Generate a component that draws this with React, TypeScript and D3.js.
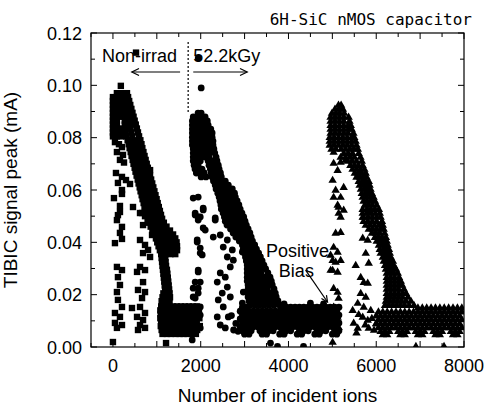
import React from 'react';
import * as d3 from 'd3';

const W = 491;
const H = 407;

const titleText = '6H-SiC nMOS capacitor';
const xLabel = 'Number of incident ions';
const yLabel = 'TIBIC signal peak (mA)';
const xTickLabels = [0, 2000, 4000, 6000, 8000];
const yTickLabels = [0, 0.02, 0.04, 0.06, 0.08, 0.1, 0.12];

// ---- Non-irradiated (squares): rows [y, x1, x2, ...] read from the dense band ----
const nonIrradRows: number[][] = [
  [0.0970, 90, 180, 270, 320],
  [0.0955, 0, 90, 180, 270, 345],
  [0.0940, 0, 90, 180, 270, 370],
  [0.0925, 0, 90, 180, 270, 395],
  [0.0910, 0, 90, 180, 270, 350, 420],
  [0.0895, 0, 90, 180, 270, 360, 445],
  [0.0880, 0, 90, 180, 270, 370, 470],
  [0.0865, 0, 90, 270, 380, 495],
  [0.0850, 0, 90, 270, 390, 520],
  [0.0835, 0, 90, 180, 280, 400, 545],
  [0.0820, 0, 90, 180, 290, 420, 570],
  [0.0805, 0, 90, 180, 300, 440, 595],
  [0.0790, 335, 430, 530, 625],
  [0.0775, 360, 455, 555, 650],
  [0.0760, 380, 475, 575, 670],
  [0.0745, 405, 500, 600, 695],
  [0.0730, 425, 525, 620, 720],
  [0.0715, 450, 550, 645, 745],
  [0.0700, 470, 570, 670, 770],
  [0.0685, 495, 595, 695, 795],
  [0.0670, 515, 615, 720, 820],
  [0.0655, 540, 640, 745, 845],
  [0.0640, 565, 665, 770, 870],
  [0.0625, 585, 690, 790, 895],
  [0.0610, 610, 710, 815, 920],
  [0.0595, 630, 735, 840, 945],
  [0.0580, 655, 760, 865, 970],
  [0.0565, 675, 780, 890, 995],
  [0.0550, 700, 805, 910, 1020],
  [0.0535, 720, 830, 935, 1045],
  [0.0520, 745, 855, 960, 1070],
  [0.0505, 770, 880, 985, 1095],
  [0.0490, 790, 900, 1010, 1120],
  [0.0475, 820, 930, 1040, 1160],
  [0.0460, 860, 960, 1060, 1160, 1220],
  [0.0445, 900, 1000, 1100, 1200, 1300],
  [0.0430, 940, 1040, 1140, 1250, 1370],
  [0.0415, 980, 1080, 1180, 1300, 1420],
  [0.0400, 1010, 1120, 1230, 1340, 1450],
  [0.0385, 1040, 1150, 1260, 1370, 1460],
  [0.0370, 1070, 1180, 1290, 1380, 1460],
  [0.0355, 1100, 1200, 1310, 1420],
  [0.0340, 1110, 1190],
  [0.0325, 1120, 1200],
  [0.0310, 1130, 1210],
  [0.0295, 1140, 1230],
  [0.0280, 1150, 1240],
  [0.0265, 1160, 1250],
  [0.0250, 1170, 1260],
  [0.0235, 1180, 1270],
  [0.0220, 1190, 1280],
  [0.0205, 1150, 1200, 1290],
  [0.0190, 1130, 1210, 1300],
  [0.0175, 1110, 1200, 1290],
  [0.0155, 1100, 1190, 1280, 1370, 1460, 1550, 1640, 1730, 1820, 1910],
  [0.0140, 1080, 1170, 1260, 1350, 1440, 1530, 1620, 1710, 1800, 1890, 1960],
  [0.0125, 1090, 1180, 1270, 1360, 1450, 1540, 1630, 1720, 1810, 1900],
  [0.0110, 1080, 1170, 1260, 1350, 1440, 1530, 1620, 1710, 1800, 1890, 1970],
  [0.0095, 1100, 1190, 1280, 1370, 1460, 1550, 1640, 1730, 1820, 1910],
  [0.0080, 1090, 1180, 1270, 1360, 1450, 1540, 1630, 1720, 1810, 1900, 1980],
  [0.0065, 1110, 1200, 1290, 1380, 1470, 1560, 1650, 1740, 1830, 1920],
  [0.0050, 1130, 1230, 1320, 1430, 1520, 1610, 1700, 1800, 1890],
];
const nonIrradScatter: number[][] = [
  [180, 0.0998], [526, 0.1125],
  [46, 0.0783], [137, 0.0775], [206, 0.0764], [91, 0.0745], [229, 0.0734], [160, 0.0715], [252, 0.0705],
  [69, 0.0665], [206, 0.065], [297, 0.0638], [114, 0.0627], [389, 0.0623], [206, 0.060], [23, 0.0569],
  [206, 0.0585], [160, 0.0539], [457, 0.0535], [114, 0.0504], [617, 0.0512], [846, 0.0676], [731, 0.050],
  [160, 0.0516], [91, 0.0485], [206, 0.0459], [160, 0.0436], [46, 0.0397], [206, 0.0413], [91, 0.0306],
  [206, 0.0294], [114, 0.0267], [160, 0.0237], [91, 0.021], [114, 0.018], [206, 0.0153], [46, 0.013],
  [160, 0.0115], [46, 0.0092], [206, 0.0084], [91, 0.0073], [0, 0.0019],
  [663, 0.0512], [686, 0.0466], [891, 0.0428], [617, 0.0409], [731, 0.039], [800, 0.0371], [686, 0.0359],
  [846, 0.0344], [617, 0.0306], [731, 0.0294], [549, 0.0287], [686, 0.0248], [571, 0.0218], [731, 0.021],
  [663, 0.0187], [434, 0.0149], [617, 0.0153], [731, 0.013], [549, 0.0115], [686, 0.0103], [617, 0.0084],
  [731, 0.0073], [571, 0.0065], [1210, 0.0015],
];

// ---- 52.2 kGy (circles) ----
const irradRows: number[][] = [
  [0.0894, 1940, 2010],
  [0.0879, 1830, 1920, 2010, 2100],
  [0.0864, 1810, 1900, 1990, 2080, 2150],
  [0.0848, 1810, 1900, 1990, 2080, 2170],
  [0.0833, 1810, 1900, 1990, 2080, 2170, 2230],
  [0.0818, 1810, 1900, 1990, 2080, 2170, 2260],
  [0.0802, 1810, 1900, 1990, 2080, 2170, 2260],
  [0.0787, 1810, 1900, 1990, 2080, 2170, 2280],
  [0.0772, 1810, 1900, 1990, 2080, 2170, 2280],
  [0.0757, 1830, 1920, 2010, 2100, 2190, 2300],
  [0.0741, 1830, 1920, 2010, 2100, 2190, 2320],
  [0.0726, 1830, 1920, 2010, 2100, 2190, 2350],
  [0.0711, 1830, 1920, 1990, 2170, 2270, 2370],
  [0.0695, 1850, 1940, 2190, 2290, 2400],
  [0.0680, 1870, 1960, 2030, 2220, 2320, 2420],
  [0.0665, 1900, 2000, 2080, 2240, 2340, 2450],
  [0.0650, 2010, 2120, 2260, 2360, 2470],
  [0.0634, 2290, 2390, 2490, 2560],
  [0.0619, 2330, 2430, 2530, 2630],
  [0.0604, 2350, 2450, 2550, 2650, 2720],
  [0.0588, 2390, 2490, 2590, 2680, 2770],
  [0.0573, 2420, 2520, 2620, 2710, 2790],
  [0.0558, 2440, 2540, 2640, 2740, 2830],
  [0.0543, 2460, 2560, 2660, 2760, 2870],
  [0.0527, 2470, 2580, 2690, 2800, 2900],
  [0.0512, 2510, 2620, 2730, 2840, 2940],
  [0.0497, 2540, 2650, 2760, 2870, 2980],
  [0.0481, 2560, 2670, 2780, 2890, 3010],
  [0.0466, 2600, 2710, 2820, 2930, 3040],
  [0.0451, 2680, 2780, 2880, 2980, 3080],
  [0.0436, 2740, 2840, 2940, 3040, 3120],
  [0.0420, 2800, 2900, 3000, 3080, 3150],
  [0.0405, 2880, 2960, 3040, 3110, 3180],
  [0.0390, 2950, 3030, 3110, 3180, 3230],
  [0.0374, 2970, 3050, 3130, 3200, 3270],
  [0.0359, 3000, 3080, 3160, 3240, 3320],
  [0.0344, 3020, 3100, 3180, 3260, 3360],
  [0.0329, 3040, 3120, 3200, 3290, 3400],
  [0.0313, 3060, 3150, 3240, 3330, 3440],
  [0.0298, 3060, 3150, 3250, 3350, 3480],
  [0.0283, 3060, 3160, 3260, 3370, 3530],
  [0.0267, 3060, 3160, 3270, 3380, 3480, 3580],
  [0.0252, 3060, 3170, 3280, 3390, 3500, 3610],
  [0.0237, 3080, 3190, 3300, 3410, 3520, 3630],
  [0.0222, 3080, 3190, 3300, 3410, 3520, 3670],
  [0.0206, 3080, 3190, 3300, 3410, 3520, 3620, 3700],
  [0.0191, 3080, 3190, 3300, 3410, 3520, 3630, 3720],
  [0.0176, 3100, 3210, 3320, 3430, 3540, 3650, 3760],
  [0.0160, 3120, 3230, 3340, 3450, 3560, 3670, 3800],
  [0.0152, 2950, 3050, 3850, 3950, 4050, 4150, 4250, 4350, 4450, 4550, 4650, 4750, 4850, 4950, 5050, 5150],
  [0.0137, 2900, 3000, 3100, 3200, 3300, 3400, 3500, 3600, 3700, 3800, 3900, 4000, 4100, 4200, 4300, 4400, 4500, 4600, 4700, 4800, 4900, 5000, 5100],
  [0.0122, 2950, 3050, 3150, 3250, 3350, 3450, 3550, 3650, 3750, 3850, 3950, 4050, 4150, 4250, 4350, 4450, 4550, 4650, 4750, 4850, 4950, 5050, 5150],
  [0.0107, 2900, 3000, 3100, 3200, 3300, 3400, 3500, 3600, 3700, 3800, 3900, 4000, 4100, 4200, 4300, 4400, 4500, 4600, 4700, 4800, 4900, 5000, 5100],
  [0.0092, 2950, 3050, 3150, 3250, 3350, 3450, 3550, 3650, 3750, 3850, 3950, 4050, 4150, 4250, 4350, 4450, 4550, 4650, 4750, 4850, 4950, 5050, 5150],
  [0.0077, 2900, 3000, 3100, 3200, 3300, 3400, 3500, 3600, 3700, 3800, 3900, 4000, 4100, 4200, 4300, 4400, 4500, 4600, 4700, 4800, 4900, 5000, 5100],
  [0.0062, 2950, 3050, 3150, 3350, 3450, 3550, 3650, 3850, 3950, 4050, 4250, 4350, 4450, 4650, 4750, 4850, 5050, 5150],
  [0.0049, 3000, 3100, 3400, 3500, 3800, 3900, 4200, 4300, 4600, 4700, 5000, 5100],
];
const irradScatter: number[][] = [
  [2011, 0.099], [1943, 0.1104],
  [1874, 0.0512], [2057, 0.0524], [1943, 0.0485], [2103, 0.0447], [1920, 0.0409], [1989, 0.0359],
  [1943, 0.0294], [1874, 0.0248], [1943, 0.0225], [1829, 0.0191], [1920, 0.0153], [1989, 0.0122],
  [1874, 0.0092], [1806, 0.0027], [1943, 0.0497], [2057, 0.0455], [1920, 0.0401], [1989, 0.0378],
  [2034, 0.0352], [1943, 0.0287], [1989, 0.0248], [1829, 0.0225], [1943, 0.0206], [1874, 0.0187],
  [1989, 0.0153], [1920, 0.013], [1874, 0.0076], [1989, 0.0073],
  [1829, 0.0569], [1943, 0.0573], [1874, 0.0504], [2057, 0.0531], [1989, 0.0497], [2331, 0.0493],
  [2331, 0.0485], [2446, 0.0428], [2286, 0.0420], [2606, 0.0409], [2514, 0.0382], [2720, 0.0371],
  [2949, 0.0363], [2606, 0.0344], [2743, 0.0332], [2674, 0.0306], [2446, 0.0283], [2560, 0.0267],
  [2377, 0.0248], [2606, 0.0229], [2491, 0.0206], [2400, 0.018], [2674, 0.0191], [2514, 0.0153],
  [2377, 0.0115], [2629, 0.0115], [2446, 0.0084], [2560, 0.0073], [2971, 0.021], [2949, 0.0168],
  [3017, 0.013], [3063, 0.0103], [2700, 0.012], [2800, 0.009], [2850, 0.006], [2750, 0.0065],
  [3300, 0.0165], [3900, 0.0165], [4500, 0.0168], [4800, 0.0165],
  [3590, 0.0015], [3750, 0.0002], [4343, 0.0002],
];

// ---- Positive bias (triangles) ----
const biasRows: number[][] = [
  [0.0925, 5140, 5200],
  [0.0910, 5060, 5150, 5240],
  [0.0894, 4990, 5080, 5170, 5270],
  [0.0879, 4960, 5060, 5160, 5260, 5370],
  [0.0864, 4960, 5060, 5160, 5260, 5390],
  [0.0848, 4960, 5060, 5160, 5260, 5360, 5420],
  [0.0833, 4960, 5060, 5160, 5260, 5360, 5440],
  [0.0818, 4960, 5060, 5160, 5260, 5360, 5480],
  [0.0802, 4940, 5040, 5140, 5240, 5340, 5440, 5500],
  [0.0787, 4940, 5040, 5140, 5240, 5340, 5440, 5530],
  [0.0772, 4940, 5040, 5140, 5240, 5340, 5440, 5550],
  [0.0757, 4980, 5080, 5200, 5300, 5400, 5490, 5580],
  [0.0741, 5260, 5360, 5460, 5600],
  [0.0726, 5300, 5400, 5500, 5640],
  [0.0711, 5350, 5450, 5550, 5670],
  [0.0695, 5410, 5500, 5590, 5690],
  [0.0680, 5460, 5550, 5640, 5730],
  [0.0665, 5510, 5590, 5670, 5760],
  [0.0650, 5550, 5630, 5710, 5780],
  [0.0634, 5600, 5680, 5750, 5830],
  [0.0619, 5620, 5700, 5780, 5850],
  [0.0604, 5650, 5730, 5800, 5870],
  [0.0588, 5670, 5750, 5830, 5900],
  [0.0573, 5690, 5770, 5860, 5940],
  [0.0558, 5710, 5790, 5880, 5970],
  [0.0543, 5740, 5820, 5910, 6010],
  [0.0527, 5690, 5790, 5880, 5970, 6060],
  [0.0512, 5690, 5790, 5880, 5980, 6080],
  [0.0497, 5710, 5810, 5910, 6010, 6100],
  [0.0481, 5710, 5810, 5910, 6010, 6130],
  [0.0466, 5760, 5860, 5960, 6060, 6150],
  [0.0451, 5830, 5920, 6010, 6100, 6170],
  [0.0436, 5900, 5990, 6080, 6190],
  [0.0420, 5970, 6050, 6130, 6220],
  [0.0405, 6010, 6090, 6170, 6240],
  [0.0390, 6060, 6140, 6210, 6260],
  [0.0374, 6080, 6160, 6230, 6290],
  [0.0359, 6100, 6180, 6250, 6310],
  [0.0344, 6150, 6220, 6280, 6330],
  [0.0329, 6170, 6240, 6310, 6380],
  [0.0313, 6200, 6270, 6340, 6400],
  [0.0298, 6220, 6300, 6380, 6450],
  [0.0283, 6240, 6320, 6400, 6490],
  [0.0267, 6240, 6330, 6420, 6520],
  [0.0252, 6240, 6330, 6420, 6510, 6560],
  [0.0237, 6240, 6330, 6420, 6510, 6590],
  [0.0222, 6240, 6330, 6420, 6510, 6630],
  [0.0206, 6240, 6330, 6420, 6510, 6600, 6680],
  [0.0191, 6240, 6330, 6420, 6510, 6600, 6720],
  [0.0176, 6220, 6310, 6400, 6490, 6580, 6680, 6790],
  [0.0160, 6200, 6290, 6380, 6470, 6560, 6650, 6750, 6860],
  [0.0150, 6950, 7050, 7150, 7250, 7350, 7450, 7550, 7650, 7750, 7850, 7950],
  [0.0135, 6050, 6150, 6250, 6350, 6450, 6550, 6650, 6750, 6850, 6950, 7050, 7150, 7250, 7350, 7450, 7550, 7650, 7750, 7850, 7950],
  [0.0120, 6000, 6100, 6200, 6300, 6400, 6500, 6600, 6700, 6800, 6900, 7000, 7100, 7200, 7300, 7400, 7500, 7600, 7700, 7800, 7900],
  [0.0105, 6050, 6150, 6250, 6350, 6450, 6550, 6650, 6750, 6850, 6950, 7050, 7150, 7250, 7350, 7450, 7550, 7650, 7750, 7850, 7950],
  [0.0090, 6000, 6100, 6200, 6300, 6400, 6500, 6600, 6700, 6800, 6900, 7000, 7100, 7200, 7300, 7400, 7500, 7600, 7700, 7800, 7900],
  [0.0075, 6050, 6150, 6250, 6350, 6450, 6550, 6650, 6750, 6850, 6950, 7050, 7150, 7250, 7350, 7450, 7550, 7650, 7750, 7850, 7950],
  [0.0060, 6100, 6200, 6300, 6500, 6600, 6700, 6900, 7000, 7100, 7300, 7400, 7500, 7700, 7800, 7900],
  [0.0048, 6150, 6250, 6550, 6650, 6950, 7050, 7350, 7450, 7750, 7850],
];
const biasScatter: number[][] = [
  [5075, 0.0436], [5189, 0.0439], [5029, 0.0382], [5120, 0.0363], [5006, 0.0332], [5189, 0.0332],
  [5006, 0.0294], [5120, 0.0287], [5029, 0.0225], [5120, 0.021], [5143, 0.0187], [5075, 0.0141],
  [5120, 0.0115], [5029, 0.0092], [5143, 0.0076], [5006, 0.0019],
  [5029, 0.0703], [5189, 0.0707], [5120, 0.0676], [5006, 0.0638], [5258, 0.0611], [5075, 0.060],
  [5189, 0.0573], [5029, 0.0573], [5143, 0.0535], [5258, 0.0524], [5189, 0.0497],
  [5120, 0.0543], [5143, 0.0512], [5075, 0.0325], [4960, 0.0352], [5029, 0.0153], [4960, 0.0294],
  [5029, 0.0745], [5189, 0.0726], [5303, 0.0715],
  [5692, 0.0497], [5692, 0.0417], [5806, 0.0409], [5532, 0.0313], [5761, 0.0359], [5829, 0.0321],
  [5646, 0.0267], [5715, 0.0248], [5806, 0.0245], [5646, 0.0206], [5761, 0.0191], [5578, 0.0168],
  [5715, 0.0153], [5692, 0.0115], [5486, 0.0092], [5806, 0.0103], [5578, 0.0073], [5829, 0.0073],
  [5463, 0.0141], [5875, 0.0141], [5600, 0.0125], [5750, 0.0085], [5900, 0.011], [5950, 0.0065],
  [6000, 0.009], [5550, 0.0055], [6904, 0.0003], [7545, 0.0003],
];

const fromRows = (rows: number[][]) => rows.flatMap(([y, ...xs]) => xs.map((x) => [x, y]));

const SANS = "'Liberation Sans', Arial, sans-serif";

export default function App() {
  const left = 91, right = 464, top = 33, bottom = 347;
  const x = d3.scaleLinear().domain([-500, 8000]).range([left, right]);
  const y = d3.scaleLinear().domain([0, 0.12]).range([bottom, top]);

  const sq = [...fromRows(nonIrradRows), ...nonIrradScatter];
  const ci = [...fromRows(irradRows), ...irradScatter];
  const tr = [...fromRows(biasRows), ...biasScatter];

  const xMinor = d3.range(-500, 8001, 500);
  const yMinor = d3.range(0, 0.1201, 0.01);
  const triPath = 'M0,-4.4L4.2,2.8L-4.2,2.8Z';
  const S = 6.4;

  const arrowHead = (x1: number, y1: number, x2: number, y2: number, len = 8, ang = 0.45) => {
    const a = Math.atan2(y2 - y1, x2 - x1);
    const p1 = [x2 - len * Math.cos(a - ang), y2 - len * Math.sin(a - ang)];
    const p2 = [x2 - len * Math.cos(a + ang), y2 - len * Math.sin(a + ang)];
    return `M${p1[0]},${p1[1]}L${x2},${y2}L${p2[0]},${p2[1]}`;
  };

  const la = { x1: x(1530), x2: x(430), y: y(0.1051) };
  const ra = { x1: x(1830), x2: x(3060), y: y(0.1051) };
  const pb = { x1: x(4390), y1: y(0.0294), x2: x(4890), y2: y(0.0172) };

  return (
    <svg width={W} height={H} style={{ position: 'absolute', left: 0, top: 0, background: '#fff' }}>
      <defs>
        <clipPath id="plotclip">
          <rect x={left} y={top} width={right - left} height={bottom - top} />
        </clipPath>
      </defs>
      <rect width={W} height={H} fill="#fff" />
      <text x={472} y={25} textAnchor="end" fontFamily="'DejaVu Sans Mono', monospace" fontSize={16} fill="#000">
        {titleText}
      </text>
      <g clipPath="url(#plotclip)" fill="#000">
        {sq.map(([vx, vy], i) => (
          <rect key={'s' + i} x={x(vx) - S / 2} y={y(vy) - S / 2} width={S} height={S} />
        ))}
        {ci.map(([vx, vy], i) => (
          <circle key={'c' + i} cx={x(vx)} cy={y(vy)} r={3.4} />
        ))}
        {tr.map(([vx, vy], i) => (
          <path key={'t' + i} d={triPath} transform={`translate(${x(vx)},${y(vy)})`} />
        ))}
      </g>
      <rect x={left} y={top} width={right - left} height={bottom - top} fill="none" stroke="#000" strokeWidth={1.2} />
      <g stroke="#000" strokeWidth={1}>
        {xMinor.map((v) => {
          const major = Math.abs(v % 1000) < 1e-6;
          const len = major ? 6 : 4;
          return (
            <g key={'xt' + v}>
              <line x1={x(v)} x2={x(v)} y1={bottom} y2={bottom - len} />
              <line x1={x(v)} x2={x(v)} y1={top} y2={top + len} />
            </g>
          );
        })}
        {yMinor.map((v, i) => {
          const len = i % 2 === 0 ? 6 : 4;
          return (
            <g key={'yt' + i}>
              <line x1={left} x2={left + len} y1={y(v)} y2={y(v)} />
              <line x1={right} x2={right - len} y1={y(v)} y2={y(v)} />
            </g>
          );
        })}
      </g>
      <g fontFamily={SANS} fontSize={18} fill="#000">
        {xTickLabels.map((v) => (
          <text key={'xl' + v} x={x(v)} y={372} textAnchor="middle">
            {v}
          </text>
        ))}
        {yTickLabels.map((v) => (
          <text key={'yl' + v} x={82} y={y(v) + 6.5} textAnchor="end">
            {v.toFixed(2)}
          </text>
        ))}
      </g>
      <text x={(left + right) / 2} y={402} textAnchor="middle" fontFamily={SANS} fontSize={19} fill="#000">
        {xLabel}
      </text>
      <text
        transform={`translate(17,${(top + bottom) / 2}) rotate(-90)`}
        textAnchor="middle"
        fontFamily={SANS}
        fontSize={19}
        fill="#000"
      >
        {yLabel}
      </text>
      <line x1={x(1714)} x2={x(1714)} y1={y(0.1166)} y2={y(0.0898)} stroke="#000" strokeWidth={1.2} strokeDasharray="2,2" />
      <g fontFamily={SANS} fontSize={18} fill="#000">
        <text x={x(-250)} y={62}>Non-irrad</text>
        <text x={x(1830)} y={62}>52.2kGy</text>
        <text x={x(4206)} y={y(0.0344)} textAnchor="middle">Positive</text>
        <text x={x(4180)} y={y(0.0267)} textAnchor="middle">Bias</text>
      </g>
      <g stroke="#000" strokeWidth={1.2} fill="none">
        <line x1={la.x1} x2={la.x2} y1={la.y} y2={la.y} />
        <path d={arrowHead(la.x1, la.y, la.x2, la.y)} />
        <line x1={ra.x1} x2={ra.x2} y1={ra.y} y2={ra.y} />
        <path d={arrowHead(ra.x1, ra.y, ra.x2, ra.y)} />
        <line x1={pb.x1} y1={pb.y1} x2={pb.x2} y2={pb.y2} />
        <path d={arrowHead(pb.x1, pb.y1, pb.x2, pb.y2, 7, 0.45)} />
      </g>
    </svg>
  );
}
